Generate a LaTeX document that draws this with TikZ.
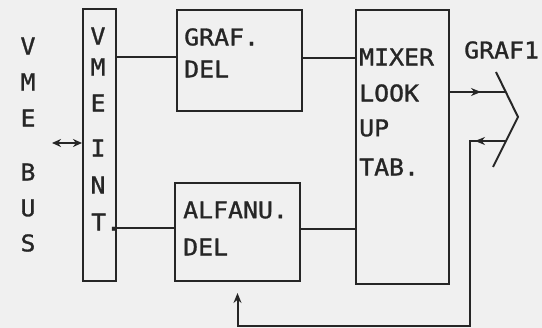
\documentclass[tikz,border=0pt]{standalone}
\usepackage{fontspec}
\newfontfamily\plotfont[FakeStretch=1.08,FakeBold=1.2]{DejaVu Sans Mono}
\usetikzlibrary{arrows.meta,decorations.markings,calc}
\definecolor{ink}{HTML}{262626}
\definecolor{paper}{HTML}{F0F0F0}
\begin{document}
\begin{tikzpicture}[x=1pt,y=-1pt,
  box/.style={draw=ink,line width=2pt,inner sep=0pt},
  lbl/.style={text=ink,font=\plotfont\fontsize{23}{23}\selectfont,inner sep=0pt},
  wire/.style={draw=ink,line width=2pt},
  midarrow/.style={postaction={decorate},decoration={markings,mark=at position #1 with {\arrow{Stealth[length=10pt,width=8pt]}}}}
]
\fill[paper] (0,0) rectangle (542,328);
\useasboundingbox (0,0) rectangle (542,328);

% boxes
\node[box,minimum width=33pt,minimum height=272pt] (vme) at (99.5,145) {};
\node[box,minimum width=125pt,minimum height=101pt] (graf) at (239.5,60.5) {};
\node[box,minimum width=125pt,minimum height=98pt] (alfa) at (237.5,232) {};
\node[box,minimum width=93pt,minimum height=274pt] (mixer) at (402.5,147) {};

% VME BUS label
\node[lbl] (b1) at (28,46) {V};
\node[lbl] (b2) at (28,82) {M};
\node[lbl] (b3) at (28,118) {E};
\node[lbl] (b4) at (28,172) {B};
\node[lbl] (b5) at (28,208) {U};
\node[lbl] (b6) at (28,243) {S};

% VME INT. label
\node[lbl] (v1) at (98,36) {V};
\node[lbl] (v2) at (98,67) {M};
\node[lbl] (v3) at (98,103) {E};
\node[lbl] (v4) at (98,148) {I};
\node[lbl] (v5) at (98,185) {N};
\node[lbl,anchor=west] (v6) at (91,222) {T.};

% box texts
\node[lbl,anchor=west] (g1) at (184,37) {GRAF.};
\node[lbl,anchor=west] (g2) at (184,69) {DEL};
\node[lbl,anchor=west] (a1) at (183,210) {ALFANU.};
\node[lbl,anchor=west] (a2) at (183,247) {DEL};
\node[lbl,anchor=west] (m1) at (359,57) {MIXER};
\node[lbl,anchor=west] (m2) at (359,93) {LOOK};
\node[lbl,anchor=west] (m3) at (359,128) {UP};
\node[lbl,anchor=west] (m4) at (359,167) {TAB.};
\node[lbl,anchor=west] (out) at (464,50) {GRAF1};

% connector symbol
\coordinate (jtop) at (496,72);
\coordinate (jv) at (518,117);
\coordinate (jbot) at (493,167);
\draw[wire] (jtop) -- (jv) -- (jbot);
\coordinate (jout) at ($(jtop)!20/45!(jv)$);
\coordinate (jin) at ($(jv)!24/50!(jbot)$);
\coordinate (rc) at (470,326);
\coordinate (bus) at (52,143);

% connectors
\draw[wire,{Stealth[length=9pt,width=8pt]}-{Stealth[length=9pt,width=8pt]}] (bus) -- (vme.west |- bus);
\draw[wire] ([yshift=3.5pt]graf.west -| vme.east) -- ([yshift=3.5pt]graf.west);
\draw[wire] ([yshift=4pt]alfa.west -| vme.east) -- ([yshift=4pt]alfa.west);
\draw[wire] ([yshift=2.5pt]graf.east) -- ([yshift=2.5pt]graf.east -| mixer.west);
\draw[wire] ([yshift=3pt]alfa.east) -- ([yshift=3pt]alfa.east -| mixer.west);
\draw[wire,midarrow=31pt] (mixer.east |- jout) -- (jout);
\draw[wire,midarrow=31pt,-{Stealth[length=10pt,width=8pt]},shorten >=11pt] (jin) -| (rc) -| (alfa.south);
\end{tikzpicture}
\end{document}
